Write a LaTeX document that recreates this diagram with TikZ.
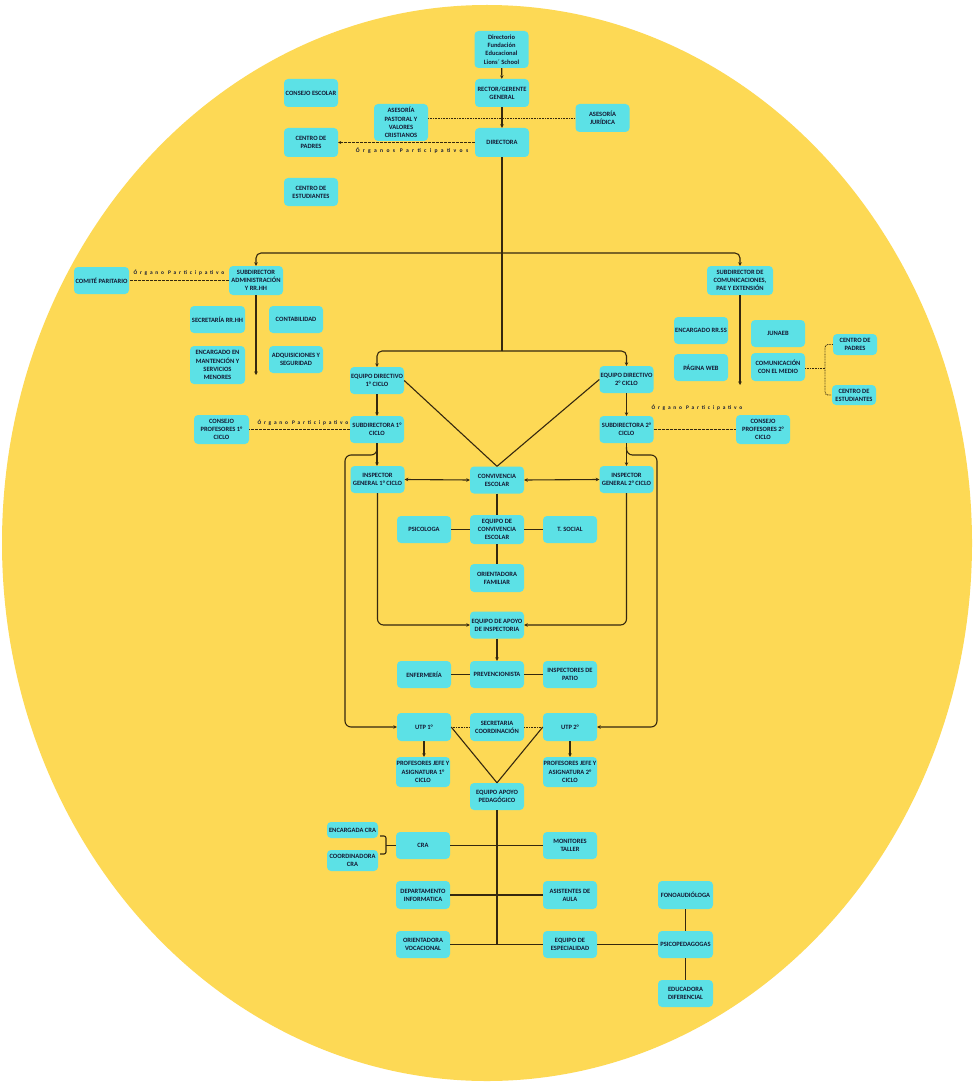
\documentclass[tikz,border=0pt]{standalone}
\usepackage{fontspec}
\setmainfont{Carlito}
\usetikzlibrary{arrows.meta}
\definecolor{bgy}{HTML}{FDD955}
\definecolor{boxc}{HTML}{5CE1E6}
\definecolor{txtc}{HTML}{141833}
\definecolor{linec}{HTML}{35280F}
\begin{document}
\begin{tikzpicture}[x=1pt,y=-1pt,
 box/.style={fill=boxc, rounded corners=4pt, text=txtc, font=\fontsize{6.5}{8.2}\selectfont\bfseries, align=center, inner sep=0.5pt, minimum width=54pt, minimum height=28pt},
 ln/.style={draw=linec, line width=1.1pt},
 arr/.style={ln, -{Stealth[length=3.5pt,width=3.5pt]}},
 darr/.style={ln, {Stealth[length=3.5pt,width=3.5pt]}-{Stealth[length=3.5pt,width=3.5pt]}},
 dashl/.style={draw=linec, line width=0.75pt, dash pattern=on 3pt off 1pt},
 dotl/.style={draw=linec, line width=0.85pt, dash pattern=on 0.8pt off 0.8pt},
 lbl/.style={text=txtc, font=\fontsize{5.6}{6}\selectfont\bfseries\addfontfeature{LetterSpace=60}, inner sep=0pt},
 lbls/.style={text=txtc, font=\fontsize{5.4}{6}\selectfont\bfseries\addfontfeature{LetterSpace=52}, inner sep=0pt}
]
\fill[white] (0,0) rectangle (973,1086);
\useasboundingbox (0,0) rectangle (973,1086);
\fill[bgy] (487,543) ellipse [x radius=485, y radius=538];

% top
\node[box, minimum height=37pt] (dir) at (501.5,49.5) {Directorio\\Fundación\\Educacional\\Lions´ School};
\node[box] (rector) at (502,93) {RECTOR/GERENTE\\GENERAL};
\node[box] (cescolar) at (311,93) {CONSEJO ESCOLAR};
\node[box, minimum height=37pt] (pastoral) at (401,122.5) {ASESORÍA\\PASTORAL Y\\VALORES\\CRISTIANOS};
\node[box] (juridica) at (602.5,118) {ASESORÍA\\JURÍDICA};
\node[box, minimum height=29pt] (cpadres) at (311,142.5) {CENTRO DE\\PADRES};
\node[box, minimum height=29pt] (directora) at (502,142.5) {DIRECTORA};
\node[box] (cestud) at (311,192) {CENTRO DE\\ESTUDIANTES};

% admin
\node[box, minimum width=55pt, minimum height=27pt] (comite) at (101.5,280.5) {COMITÉ PARITARIO};
\node[box, minimum height=29pt] (subadm) at (256,280.5) {SUBDIRECTOR\\ADMINISTRACIÓN\\Y RR.HH};
\node[box, minimum width=55pt, minimum height=27pt] (secrrh) at (217.5,319.5) {SECRETARÍA RR.HH};
\node[box, minimum height=27pt] (conta) at (296,319.5) {CONTABILIDAD};
\node[box, minimum width=55pt, minimum height=38pt] (mant) at (217.5,365) {ENCARGADO EN\\MANTENCIÓN Y\\SERVICIOS\\MENORES};
\node[box, minimum height=27pt] (adqui) at (296,359.5) {ADQUISICIONES Y\\SEGURIDAD};

% communications
\node[box, minimum width=66pt, minimum height=29pt] (subcom) at (740,280.5) {SUBDIRECTOR DE\\COMUNICACIONES,\\PAE Y EXTENSIÓN};
\node[box, minimum height=27pt] (rrss) at (701,330.5) {ENCARGADO RR.SS};
\node[box, minimum height=27pt] (web) at (701,367.5) {PÁGINA WEB};
\node[box, minimum height=27pt] (junaeb) at (778,333.5) {JUNAEB};
\node[box] (comm) at (778,367) {COMUNICACIÓN\\CON EL MEDIO};
\node[box, minimum width=44pt, minimum height=21pt] (cpadres2) at (855,344.5) {CENTRO DE\\PADRES};
\node[box, minimum width=44pt, minimum height=20pt] (cestud2) at (854,395) {CENTRO DE\\ESTUDIANTES};

% cycles
\node[box, minimum height=27pt] (ed1) at (377,380.5) {EQUIPO DIRECTIVO\\1° CICLO};
\node[box, minimum height=27pt] (ed2) at (626.5,379.5) {EQUIPO DIRECTIVO\\2° CICLO};
\node[box, minimum height=27pt] (sub1) at (377,429.5) {SUBDIRECTORA 1°\\CICLO};
\node[box, minimum height=27pt] (sub2) at (626.5,429.5) {SUBDIRECTORA 2°\\CICLO};
\node[box, minimum width=55pt, minimum height=29pt] (cons1) at (221.5,429.5) {CONSEJO\\PROFESORES 1°\\CICLO};
\node[box, minimum height=29pt] (cons2) at (763,429.5) {CONSEJO\\PROFESORES 2°\\CICLO};
\node[box, minimum height=27pt] (insp1) at (377.5,479.5) {INSPECTOR\\GENERAL 1° CICLO};
\node[box, minimum height=27pt] (conv) at (497,480) {CONVIVENCIA\\ESCOLAR};
\node[box, minimum height=27pt] (insp2) at (626.5,479.5) {INSPECTOR\\GENERAL 2° CICLO};
\node[box, minimum height=27pt] (psico) at (424,529.5) {PSICOLOGA};
\node[box, minimum height=29pt] (eqconv) at (497,529.5) {EQUIPO DE\\CONVIVENCIA\\ESCOLAR};
\node[box, minimum height=27pt] (tsoc) at (570,529.5) {T. SOCIAL};
\node[box] (orfam) at (497,578) {ORIENTADORA\\FAMILIAR};
\node[box, minimum height=27pt] (eqapoyo) at (497,625) {EQUIPO DE APOYO\\DE INSPECTORIA};
\node[box, minimum height=27pt] (enf) at (424,674.5) {ENFERMERÍA};
\node[box, minimum height=27pt] (prev) at (497,674.5) {PREVENCIONISTA};
\node[box, minimum height=27pt] (inspatio) at (570,674.5) {INSPECTORES DE\\PATIO};
\node[box] (utp1) at (424,727) {UTP 1°};
\node[box] (secre) at (497,727) {SECRETARIA\\COORDINACIÓN};
\node[box] (utp2) at (570,727) {UTP 2°};
\node[box, minimum height=30pt] (prof1) at (423,772) {PROFESORES JEFE Y\\ASIGNATURA 1°\\CICLO};
\node[box, minimum height=30pt] (prof2) at (570,772) {PROFESORES JEFE Y\\ASIGNATURA 2°\\CICLO};
\node[box, minimum height=27pt] (eap) at (497,796.5) {EQUIPO APOYO\\PEDAGÓGICO};

% bottom
\node[box, minimum width=51pt, minimum height=16pt] (encra) at (352.5,830) {ENCARGADA CRA};
\node[box, minimum width=51pt, minimum height=21pt] (coocra) at (352.5,860.5) {COORDINADORA\\CRA};
\node[box, minimum height=27pt] (cra) at (423,845.5) {CRA};
\node[box, minimum height=27pt] (monit) at (570,845.5) {MONITORES\\TALLER};
\node[box] (depto) at (423,895) {DEPARTAMENTO\\INFORMATICA};
\node[box] (asist) at (570,895) {ASISTENTES DE\\AULA};
\node[box, minimum height=27pt] (orvoc) at (423,944.5) {ORIENTADORA\\VOCACIONAL};
\node[box, minimum height=27pt] (eqesp) at (570,944.5) {EQUIPO DE\\ESPECIALIDAD};
\node[box, minimum width=55pt] (fono) at (685.5,895) {FONOAUDIÓLOGA};
\node[box, minimum width=55pt, minimum height=27pt] (psicop) at (685.5,944.5) {PSICOPEDAGOGAS};
\node[box, minimum width=55pt, minimum height=27pt] (educ) at (685.5,993.5) {EDUCADORA\\DIFERENCIAL};

% labels
\node[lbl] (lo1) at (412,151) {Órganos Participativos};
\node[lbls] (lo2) at (179,273) {Órgano Participativo};
\node[lbls] (lo3) at (303,423) {Órgano Participativo};
\node[lbls] (lo4) at (697,408) {Órgano Participativo};

% coordinates
\coordinate (t1) at (502,253);
\coordinate (t2) at (502,351);
\coordinate (e1) at (256,375);
\coordinate (e2) at (740,385);
\coordinate (s1) at (377,447);
\coordinate (l1) at (345,455);
\coordinate (s2) at (626.5,447);
\coordinate (r2) at (657,455);
\coordinate (brk) at (825,368);
\coordinate (b1) at (497,944.5);
\coordinate (bt) at (380,836);
\coordinate (bb) at (386,854);
\coordinate (bbe) at (380,854);
\coordinate (bm) at (386,845.5);

% top connectors
\draw[arr] (dir) -- (rector);
\draw[arr] (rector) -- (directora);
\draw[dotl] (pastoral.east |- juridica.west) -- (juridica.west);
\draw[dashl, -{Stealth[length=3pt,width=3pt]}] (directora.west) -- (cpadres.east);
\draw[ln] (directora.south) -- (t2);
\draw[arr, rounded corners=5pt] (t1) -| (subadm.north);
\draw[arr, rounded corners=5pt] (t1) -| (subcom.north);
\draw[arr, rounded corners=5pt] (t2) -| (ed1.north);
\draw[arr, rounded corners=5pt] (t2) -| (ed2.north);

% admin & comm
\draw[dashl] (subadm.west) -- (comite.east);
\draw[arr] (subadm.south) -- (e1);
\draw[arr] (subcom.south) -- (e2);
\draw[dotl] (comm.east |- brk) -- (brk);
\draw[dotl, rounded corners=3pt] (cpadres2.west) -| (brk) |- (cestud2.west);

% cycles
\draw[ln] (ed1.east) -- (conv.north);
\draw[ln] (ed2.west) -- (conv.north);
\draw[arr] (ed1) -- (sub1);
\draw[arr] (ed2) -- (sub2);
\draw[dashl] (sub1.west) -- (cons1.east);
\draw[dashl] (sub2.east) -- (cons2.west);
\draw[arr] (sub1) -- (insp1.north -| sub1);
\draw[arr] (sub2) -- (insp2);
\draw[arr, rounded corners=6pt] (s1) |- (l1) |- (utp1.west);
\draw[arr, rounded corners=6pt] (s2) |- (r2) |- (utp2.east);
\draw[darr] (insp1.east) -- (conv.west);
\draw[darr] (conv.east) -- (insp2.west);
\draw[arr, rounded corners=6pt] (insp1.south) |- (eqapoyo.west);
\draw[arr, rounded corners=6pt] (insp2.south) |- (eqapoyo.east);
\draw[ln] (conv) -- (eqconv);
\draw[ln] (eqconv) -- (psico);
\draw[ln] (eqconv) -- (tsoc);
\draw[ln] (eqconv) -- (orfam);
\draw[arr] (eqapoyo) -- (prev);
\draw[ln] (prev) -- (enf);
\draw[ln] (prev) -- (inspatio);
\draw[dotl] (utp1.east) -- (secre.west);
\draw[dotl] (secre.east) -- (utp2.west);
\draw[ln] (utp1.east) -- (eap.north);
\draw[ln] (utp2.west) -- (eap.north);
\draw[arr] (utp1.south) -- (prof1.north -| utp1.south);
\draw[arr] (utp2) -- (prof2);

% bottom
\draw[ln] (eap.south) -- (b1);
\draw[ln] (cra.east) -- (monit.west);
\draw[ln] (depto.east) -- (asist.west);
\draw[ln] (orvoc.east) -- (eqesp.west);
\draw[ln] (eqesp.east) -- (psicop.west);
\draw[ln] (fono) -- (psicop);
\draw[ln] (psicop) -- (educ);
\draw[ln, rounded corners=2pt] (bt) -| (bb) -- (bbe);
\draw[ln] (bm) -- (cra.west);
\end{tikzpicture}
\end{document}
